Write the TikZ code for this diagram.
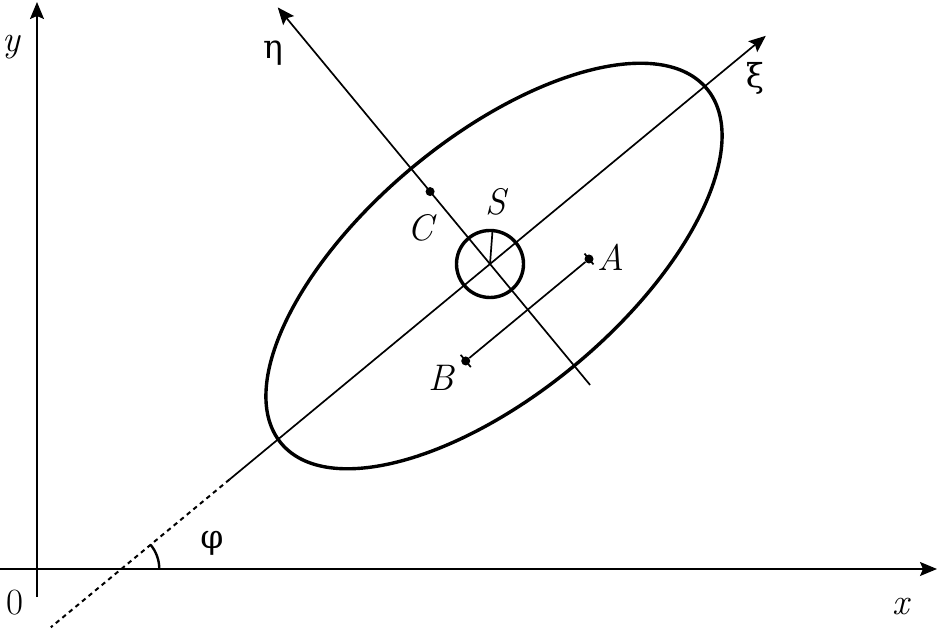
\documentclass[tikz,border=0pt]{standalone}
\usepackage{fontspec}
\newfontfamily\greekfont{DejaVu Serif}
\usetikzlibrary{arrows.meta,calc}
\begin{document}
\begin{tikzpicture}[x=1pt,y=1pt,
  axisarrow/.style={line width=1.7pt,-{Stealth[length=17pt,width=14pt,inset=3pt]}},
  thinline/.style={line width=1.7pt},
  thickcurve/.style={line width=3.4pt},
  lbl/.style={font=\rmfamily\fontsize{37}{40}\selectfont, inner sep=0pt},
  glbl/.style={font=\greekfont\fontsize{33}{40}\selectfont, inner sep=0pt},
  dotpt/.style={circle,fill,inner sep=0pt,minimum size=9pt}]
\useasboundingbox (0,0) rectangle (939,629);
% coordinate axes
\coordinate (ybot) at (37,32);
\coordinate (ytop) at (37,627);
\coordinate (xleft) at (0,60);
\coordinate (xright) at (937,60);
\draw[axisarrow] (ybot) -- (ytop);
\draw[axisarrow] (xleft) -- (xright);
% centre S and rotated axes
\coordinate (S) at (490,365);
\coordinate (xistart) at ($(S)+(219.6:338)$);
\coordinate (xitip) at ($(S)+(39.6:358)$);
\coordinate (xidot) at ($(S)+(219.6:570)$);
\coordinate (etatip) at ($(S)+(129.6:333)$);
\coordinate (etaend) at ($(S)+(-50.4:157)$);
\draw[axisarrow] (xistart) -- (xitip);
\draw[line width=2pt, dash pattern=on 4.5pt off 4pt] (xistart) -- (xidot);
\draw[axisarrow] (etaend) -- (etatip);
% ellipse
\coordinate (E) at (494,363);
\draw[thickcurve, rotate around={39.8:(E)}] (E) ellipse[x radius=277, y radius=128];
% small circle at S
\node[draw, circle, thickcurve, minimum size=67pt, inner sep=0pt] (Scirc) at (S) {};
\coordinate (Stop) at ($(S)+(2.5,33)$);
\draw[thinline] (S) -- (Stop);
% point C
\node[dotpt] (C) at ($(S)+(129.6:94)$) {};
% segment AB
\node[dotpt] (A) at (589,370) {};
\node[dotpt] (B) at ($(A)+(219.6:160)$) {};
\draw[thinline] (A) -- (B);
\draw[thinline] ($(A)+(129.6:7)$) -- ($(A)+(-50.4:7)$);
\draw[thinline] ($(B)+(129.6:8)$) -- ($(B)+(-50.4:8)$);
% angle phi
\coordinate (V) at (intersection of xleft--xright and xistart--xidot);
\draw[line width=2.4pt] ($(V)+(38,0)$) arc[start angle=0, end angle=39.6, radius=38];
% labels
\node[lbl] (lx) at (902,22) {\textit{x}};
\node[lbl] (ly) at (12,582) {\textit{y}};
\node[lbl] (l0) at (15,26) {0};
\node[glbl] (lphi) at (212,86) {φ};
\node[glbl] (leta) at (273,576) {η};
\node[glbl] (lxi) at (755,551) {ξ};
\node[lbl] (lS) at (497,427) {\textit{S}};
\node[lbl] (lC) at (422,401) {\textit{C}};
\node[lbl] (lA) at (611,372) {\textit{A}};
\node[lbl] (lB) at (442,251) {\textit{B}};
\end{tikzpicture}
\end{document}
